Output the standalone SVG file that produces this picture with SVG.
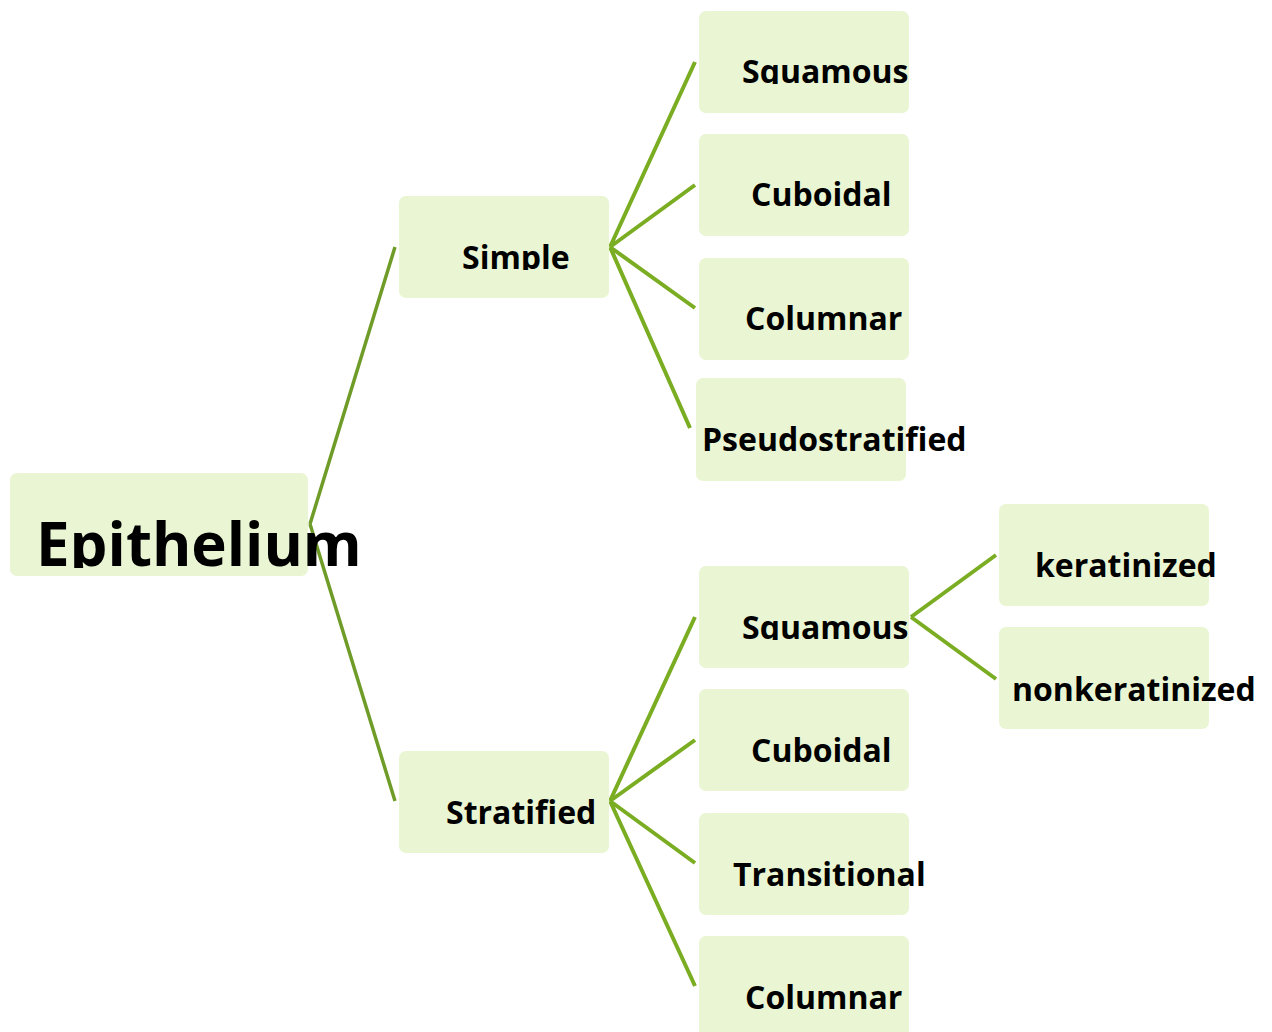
<svg xmlns="http://www.w3.org/2000/svg" width="1272" height="1032" viewBox="0 0 1272 1032">
<style>
.box{fill:#E9F5D3;}
.t{font-family:"Open Sans","Noto Sans","DejaVu Sans",sans-serif;font-weight:bold;font-size:32px;fill:#000;}
.big{font-size:60px;}
.c{fill:none;stroke:#7AAD22;stroke-width:4;}
.c0{stroke:#6F9C28;stroke-width:3.5;}
</style>
<defs>
<clipPath id="clipEp"><rect x="0" y="470" width="420" height="98"/></clipPath>
<clipPath id="clipSi"><rect x="400" y="196" width="210" height="74"/></clipPath>
<clipPath id="clipSq1"><rect x="700" y="11" width="220" height="73"/></clipPath>
<clipPath id="clipSq2"><rect x="700" y="566" width="220" height="74"/></clipPath>
</defs>
<rect width="1272" height="1032" fill="#fff"/>
<g id="connectors">
<path class="c c0" d="M310 524 L395 247 M310 524 L395 801"/>
<path class="c" d="M610 247 L695 62 M610 247 L695 185 M610 247 L695 308 M610 247 L690 428"/>
<path class="c" d="M610 801 L695 617 M610 801 L695 740 M610 801 L695 863 M610 801 L695 986"/>
<path class="c" d="M911 617 L996 555 M911 617 L996 679"/>
</g>
<g id="epithelium"><rect class="box" x="10" y="473" width="298" height="103" rx="7"/><text class="t big" x="36" y="566" clip-path="url(#clipEp)">Epithelium</text></g>
<g id="simple"><rect class="box" x="399" y="196" width="210" height="102" rx="7"/><text class="t" x="462" y="269" clip-path="url(#clipSi)">Simple</text></g>
<g id="stratified"><rect class="box" x="399" y="751" width="210" height="102" rx="7"/><text class="t" x="446" y="824">Stratified</text></g>
<g id="simple-squamous"><rect class="box" x="699" y="11" width="210" height="102" rx="7"/><text class="t" x="742" y="83" clip-path="url(#clipSq1)">Squamous</text></g>
<g id="simple-cuboidal"><rect class="box" x="699" y="134" width="210" height="102" rx="7"/><text class="t" x="751" y="206">Cuboidal</text></g>
<g id="simple-columnar"><rect class="box" x="699" y="258" width="210" height="102" rx="7"/><text class="t" x="745" y="330">Columnar</text></g>
<g id="simple-pseudostratified"><rect class="box" x="696" y="378" width="210" height="103" rx="7"/><text class="t" x="702" y="451">Pseudostratified</text></g>
<g id="strat-squamous"><rect class="box" x="699" y="566" width="210" height="102" rx="7"/><text class="t" x="742" y="639" clip-path="url(#clipSq2)">Squamous</text></g>
<g id="strat-cuboidal"><rect class="box" x="699" y="689" width="210" height="102" rx="7"/><text class="t" x="751" y="762">Cuboidal</text></g>
<g id="strat-transitional"><rect class="box" x="699" y="813" width="210" height="102" rx="7"/><text class="t" x="733" y="886">Transitional</text></g>
<g id="strat-columnar"><rect class="box" x="699" y="936" width="210" height="110" rx="7"/><text class="t" x="745" y="1009">Columnar</text></g>
<g id="keratinized"><rect class="box" x="999" y="504" width="210" height="102" rx="7"/><text class="t" x="1035" y="577">keratinized</text></g>
<g id="nonkeratinized"><rect class="box" x="999" y="627" width="210" height="102" rx="7"/><text class="t" x="1012" y="701">nonkeratinized</text></g>
</svg>
